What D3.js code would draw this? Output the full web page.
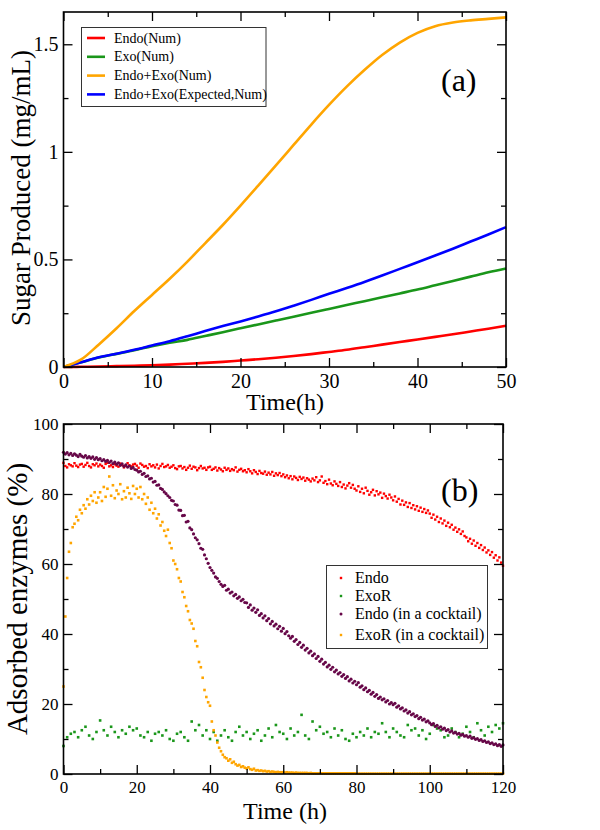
<!DOCTYPE html>
<html>
<head>
<meta charset="utf-8">
<script src="https://cdn.jsdelivr.net/npm/d3@7"></script>
<style>
  html, body { margin: 0; padding: 0; background: #fff; }
  svg { display: block; }
  text { font-family: "Liberation Serif", "Times New Roman", serif; fill: #000; }
</style>
</head>
<body>
<svg id="chart" width="600" height="830"></svg>
<script>
// ---------------- Panel (a) data ----------------
const timeA = [0,2,4,6,8,10,12,14,16,18,20,22,24,26,28,30,32,34,36,38,40,42,44,46,48,50];
const endoNum = [0,0.001,0.002,0.004,0.006,0.008,0.011,0.015,0.019,0.024,0.030,0.036,0.043,0.051,0.060,0.070,0.080,0.092,0.104,0.116,0.128,0.140,0.152,0.165,0.178,0.192];
const exoNum = [0,0.022,0.044,0.061,0.078,0.097,0.113,0.126,0.144,0.162,0.180,0.198,0.216,0.234,0.252,0.270,0.288,0.306,0.324,0.342,0.360,0.380,0.400,0.420,0.440,0.458];
const endoExoNum = [0,0.035,0.105,0.180,0.260,0.335,0.410,0.490,0.575,0.660,0.750,0.843,0.937,1.032,1.127,1.218,1.303,1.380,1.450,1.508,1.553,1.584,1.601,1.611,1.618,1.625];
const endoExoExpected = [0,0.022,0.045,0.062,0.080,0.100,0.120,0.143,0.167,0.190,0.212,0.235,0.259,0.285,0.312,0.340,0.367,0.395,0.425,0.456,0.487,0.518,0.550,0.583,0.616,0.650];
const legendA = ["Endo(Num)", "Exo(Num)", "Endo+Exo(Num)", "Endo+Exo(Expected,Num)"];
const xTicksA = [0,10,20,30,40,50];
const yTicksA = [0,0.5,1,1.5];

// ---------------- Panel (b) data ----------------
// dense series sampled every 0.5 h from 0 to 120 h, ExoR every 1 h
const stepDense = 0.5;
const stepExoR = 1;
const endoB = [
 88.9,88.0,87.6,88.5,88.2,87.9,88.8,88.1,87.7,88.4,88.6,87.8,88.3,88.9,88.0,87.6,88.5,88.2,88.7,87.9,
 88.4,88.0,87.5,88.6,88.9,87.9,88.2,87.7,88.5,88.1,87.8,88.7,88.3,87.6,88.0,88.8,88.2,87.9,88.4,88.6,
 88.1,87.5,88.7,88.3,87.8,88.0,87.4,88.5,87.9,88.2,87.6,88.4,87.3,88.0,88.6,87.7,87.9,88.3,87.5,87.8,
 88.2,87.4,87.1,87.9,88.0,87.3,87.7,86.9,87.5,88.1,87.2,87.8,87.6,86.8,87.4,88.0,87.3,87.5,86.9,87.6,
 87.8,86.9,87.2,87.6,86.7,87.4,87.0,86.5,87.5,86.9,87.3,86.6,87.1,86.8,87.6,86.4,86.9,87.2,86.5,86.8,
 86.2,87.1,86.5,85.9,86.8,86.3,85.7,86.6,86.0,85.8,86.4,85.5,86.1,85.6,86.3,85.2,85.9,85.4,86.0,85.1,
 85.6,84.8,85.3,84.5,85.1,84.2,85.0,84.6,84.0,84.9,84.3,84.7,83.8,84.5,84.1,83.6,84.4,83.9,84.8,83.4,
 83.9,85.0,83.2,83.7,82.8,84.1,83.0,82.5,83.6,82.9,82.3,83.4,82.0,82.7,81.6,82.4,83.1,81.8,82.6,81.5,
 81.0,82.2,80.6,81.5,80.2,81.8,80.9,79.8,80.5,81.2,79.6,80.8,79.9,80.4,78.9,80.1,79.4,78.7,79.8,79.0,
 78.2,79.3,77.8,78.6,77.0,78.1,76.9,77.6,76.3,77.4,76.0,76.8,75.6,76.5,75.2,76.1,74.9,75.7,74.6,75.3,
 74.4,73.2,74.1,72.7,73.5,72.0,73.0,71.6,72.4,70.9,71.8,70.5,71.2,69.8,70.4,69.2,69.9,68.6,69.3,68.0,
 67.6,66.5,67.2,65.8,66.7,65.2,66.0,64.6,65.4,64.0,64.7,63.3,63.9,62.6,63.4,61.8,62.5,61.0,61.9,60.4,
 59.5
];
const exoRB = [
 8.0,10.5,11.5,12.0,10.5,12.5,13.5,11.0,10.0,12.0,15.3,12.5,11.0,13.5,12.0,10.5,12.5,11.5,13.5,12.5,
 13.0,11.0,10.5,12.0,9.5,11.5,12.0,11.0,12.5,10.0,9.5,11.5,12.0,10.5,9.5,15.0,12.5,14.0,11.0,12.5,
 10.0,12.0,9.5,11.0,12.5,10.5,9.5,12.0,13.5,11.0,12.0,10.0,11.5,12.5,9.5,11.0,13.0,10.5,14.0,12.0,
 11.5,10.0,13.0,11.0,12.0,16.9,11.0,10.0,15.0,12.5,13.5,11.5,12.0,10.5,13.0,11.0,12.5,10.0,9.5,11.5,
 10.5,12.0,11.0,13.0,10.5,12.0,11.5,14.5,12.0,10.5,13.0,12.0,11.0,10.5,14.0,12.5,13.0,11.0,12.5,10.0,
 11.5,14.0,13.0,12.5,10.5,11.0,13.0,12.0,10.5,11.5,13.5,12.0,10.5,14.5,12.5,11.0,13.5,12.0,14.0,13.0,
 14.5
];
const endoCocktailB = [
 91.9,91.4,91.8,91.2,91.6,91.0,91.5,91.1,90.7,91.3,90.8,90.5,91.0,90.3,90.7,90.2,90.6,89.9,90.4,89.8,
 90.1,89.5,89.8,89.3,89.6,89.0,89.4,88.7,89.1,88.5,88.9,88.2,88.6,87.9,88.3,87.7,88.0,87.3,87.6,87.0,
 86.8,86.3,86.5,85.6,85.9,85.0,85.2,84.3,84.5,83.4,83.6,82.5,82.6,81.6,81.3,80.6,80.1,79.5,79.0,78.2,
 78.0,77.0,76.8,75.4,75.3,73.8,73.9,72.0,72.2,70.3,69.8,68.6,67.5,66.9,65.8,64.5,64.2,62.6,61.5,60.2,
 59.0,58.2,57.4,56.3,55.9,55.0,54.2,53.6,53.9,52.5,52.8,51.7,52.0,50.9,51.3,50.2,50.6,49.5,49.9,49.0,
 48.9,47.6,48.3,46.8,47.4,46.2,46.9,45.3,45.8,44.6,45.2,43.8,44.4,42.9,43.6,42.3,42.8,41.5,42.2,40.8,
 41.6,40.1,40.7,39.5,38.8,39.3,37.9,38.4,37.0,37.6,36.2,36.8,35.4,35.9,34.6,35.1,33.8,34.3,33.0,33.6,
 32.2,32.8,31.4,31.9,30.6,31.1,29.9,30.5,29.2,29.7,28.6,29.0,27.9,28.4,27.3,27.8,26.6,27.1,26.0,26.5,
 25.5,26.1,24.8,25.2,24.1,24.6,23.5,23.9,22.8,23.3,22.2,22.7,21.6,22.0,21.2,21.5,20.6,21.0,20.0,20.4,
 19.8,20.2,19.1,19.5,18.6,18.9,18.0,18.3,17.4,17.8,16.9,17.2,16.4,16.7,15.8,16.2,15.4,15.7,14.9,15.2,
 14.6,14.1,14.4,13.6,13.9,13.2,13.5,12.8,13.1,12.4,12.7,12.0,12.3,11.7,11.9,11.4,11.6,11.1,11.3,10.8,
 11.0,10.5,10.8,10.2,10.4,9.9,10.1,9.6,9.8,9.3,9.5,9.0,9.2,8.7,8.9,8.4,8.6,8.1,8.4,7.9,
 8.3
];
const exoRCocktailB = [
 25.0,45.0,56.0,63.5,66.0,70.5,71.5,73.5,72.5,75.5,74.5,76.8,75.8,78.5,77.0,79.5,78.0,80.5,77.5,79.0,
 80.5,78.0,82.0,79.2,81.5,85.0,79.5,82.5,78.8,81.0,80.0,82.8,78.5,80.8,79.0,81.8,80.2,78.6,82.3,80.0,
 81.5,79.0,82.0,78.5,80.0,77.2,79.0,75.5,77.5,74.5,75.8,73.0,74.2,71.0,72.0,69.5,68.0,69.8,66.0,64.5,
 61.0,60.0,58.5,56.0,55.0,52.0,50.5,48.0,46.5,44.0,43.0,41.5,38.0,36.5,32.0,30.5,27.5,24.0,22.0,20.5,
 19.5,15.0,12.5,11.0,9.0,7.5,6.5,5.5,4.8,4.5,3.8,4.2,3.2,3.5,2.8,2.4,2.6,2.0,2.2,1.8,
 1.6,1.9,1.4,1.2,1.5,1.0,1.1,0.9,1.0,0.8,0.9,0.7,0.8,0.6,0.7,0.6,0.5,0.6,0.5,0.5,
 0.5,0.4,0.5,0.4,0.4,0.4,0.3,0.4,0.3,0.3,0.3,0.3,0.3,0.3,0.2,0.3,0.2,0.2,0.2,0.2,
 0.2,0.2,0.2,0.2,0.2,0.2,0.2,0.2,0.2,0.2,0.2,0.2,0.2,0.2,0.2,0.2,0.2,0.2,0.2,0.2,
 0.1,0.1,0.1,0.1,0.1,0.1,0.1,0.1,0.1,0.1,0.1,0.1,0.1,0.1,0.1,0.1,0.1,0.1,0.1,0.1,
 0.1,0.1,0.1,0.1,0.1,0.1,0.1,0.1,0.1,0.1,0.1,0.1,0.1,0.1,0.1,0.1,0.1,0.1,0.1,0.1,
 0.1,0.1,0.1,0.1,0.1,0.1,0.1,0.1,0.1,0.1,0.1,0.1,0.1,0.1,0.1,0.1,0.1,0.1,0.1,0.1,
 0.1,0.1,0.1,0.1,0.1,0.1,0.1,0.1,0.1,0.1,0.1,0.1,0.1,0.1,0.1,0.1,0.1,0.1,0.1,0.1,
 0.1
];
const legendB = ["Endo", "ExoR", "Endo (in a cocktail)", "ExoR (in a cocktail)"];
const xTicksB = [0,20,40,60,80,100,120];
const yTicksB = [0,20,40,60,80,100];

// ---------------- styling ----------------
const colA = ["#ff0000", "#1a961a", "#ffa500", "#0000ff"];
const colB = ["#ff0000", "#1a961a", "#670748", "#ffa500"];

const svg = d3.select("#chart");

function frameAxes(g, x, y, xMajor, xMinor, yMajor, yMinor, fs, xfmt, yfmt) {
  const [x0, x1] = x.range();
  const [y0, y1] = y.range(); // y0 bottom, y1 top
  const major = 9, minor = 5;
  g.append("g").attr("transform", `translate(0,${y0})`)
    .call(d3.axisBottom(x).tickValues(xMajor).tickSize(-major).tickPadding(7).tickFormat(xfmt));
  g.append("g").attr("transform", `translate(0,${y0})`)
    .call(d3.axisBottom(x).tickValues(xMinor).tickSize(-minor).tickFormat(""));
  g.append("g").attr("transform", `translate(0,${y1})`)
    .call(d3.axisTop(x).tickValues(xMajor).tickSize(-major).tickFormat(""));
  g.append("g").attr("transform", `translate(0,${y1})`)
    .call(d3.axisTop(x).tickValues(xMinor).tickSize(-minor).tickFormat(""));
  g.append("g").attr("transform", `translate(${x0},0)`)
    .call(d3.axisLeft(y).tickValues(yMajor).tickSize(-major).tickPadding(5).tickFormat(yfmt));
  g.append("g").attr("transform", `translate(${x0},0)`)
    .call(d3.axisLeft(y).tickValues(yMinor).tickSize(-minor).tickFormat(""));
  g.append("g").attr("transform", `translate(${x1},0)`)
    .call(d3.axisRight(y).tickValues(yMajor).tickSize(-major).tickFormat(""));
  g.append("g").attr("transform", `translate(${x1},0)`)
    .call(d3.axisRight(y).tickValues(yMinor).tickSize(-minor).tickFormat(""));
  g.selectAll(".domain").remove();
  g.selectAll(".tick line").attr("stroke", "#000").attr("stroke-width", 1.3);
  g.selectAll(".tick text").style("font-size", fs + "px")
    .style("font-family", '"Liberation Serif", "Times New Roman", serif').attr("fill", "#000");
  g.append("rect").attr("x", x0).attr("y", y1).attr("width", x1 - x0).attr("height", y0 - y1)
    .attr("fill", "none").attr("stroke", "#000").attr("stroke-width", 1.6);
}

// ================= Panel (a) =================
const gA = svg.append("g");
const xA = d3.scaleLinear().domain([0, 50]).range([63.5, 506]);
const yA = d3.scaleLinear().domain([0, 1.65]).range([367, 12]);

const seriesA = [endoNum, exoNum, endoExoNum, endoExoExpected];
const lineA = d3.line().x(d => xA(d[0])).y(d => yA(d[1])).curve(d3.curveMonotoneX);
const drawOrderA = [0, 1, 3, 2];
drawOrderA.forEach(i => {
  gA.append("path")
    .datum(timeA.map((t, k) => [t, seriesA[i][k]]))
    .attr("d", lineA)
    .attr("fill", "none")
    .attr("stroke", colA[i])
    .attr("stroke-width", 2.6);
});

frameAxes(gA, xA, yA, xTicksA, d3.range(5, 50, 10), yTicksA, [0.25, 0.75, 1.25],
  20, d3.format("d"), d => d3.format("")(d));

const lgA = gA.append("g");
lgA.append("rect").attr("x", 81.5).attr("y", 27.5).attr("width", 184.5).attr("height", 79)
  .attr("fill", "#fff").attr("stroke", "#333").attr("stroke-width", 1);
legendA.forEach((name, i) => {
  const yy = 38 + i * 18.8;
  lgA.append("line").attr("x1", 87).attr("x2", 105).attr("y1", yy).attr("y2", yy)
    .attr("stroke", colA[i]).attr("stroke-width", 2.6);
  lgA.append("text").attr("x", 114).attr("y", yy).attr("dy", "0.33em")
    .style("font-size", "14px").text(name);
});

gA.append("text").attr("x", 441).attr("y", 91).style("font-size", "32px").text("(a)");
gA.append("text").attr("x", 285).attr("y", 410).attr("text-anchor", "middle")
  .style("font-size", "24px").text("Time(h)");
gA.append("text").attr("transform", "translate(30,188) rotate(-90)").attr("text-anchor", "middle")
  .style("font-size", "27px").text("Sugar Produced (mg/mL)");

// ================= Panel (b) =================
const gB = svg.append("g");
const xB = d3.scaleLinear().domain([0, 120]).range([63.5, 503]);
const yB = d3.scaleLinear().domain([0, 100]).range([774, 424]);

const seriesB = [
  { vals: endoB, step: stepDense, col: colB[0], s: 2.4, shape: "rect" },
  { vals: exoRB, step: stepExoR, col: colB[1], s: 2.6, shape: "rect" },
  { vals: endoCocktailB, step: stepDense, col: colB[2], s: 1.6, shape: "circle" },
  { vals: exoRCocktailB, step: stepDense, col: colB[3], s: 2.6, shape: "rect" }
];
const plotB = gB.append("g");
seriesB.forEach(S => {
  const data = S.vals.map((v, k) => [k * S.step, v]);
  if (S.shape === "rect") {
    plotB.append("g").selectAll("rect").data(data).join("rect")
      .attr("x", d => xB(d[0]) - S.s / 2).attr("y", d => yB(d[1]) - S.s / 2)
      .attr("width", S.s).attr("height", S.s).attr("fill", S.col);
  } else {
    plotB.append("g").selectAll("circle").data(data).join("circle")
      .attr("cx", d => xB(d[0])).attr("cy", d => yB(d[1])).attr("r", S.s).attr("fill", S.col);
  }
});

frameAxes(gB, xB, yB, xTicksB, d3.range(10, 120, 20), yTicksB, d3.range(10, 100, 20),
  17, d3.format("d"), d3.format("d"));

const lgB = gB.append("g");
lgB.append("rect").attr("x", 326.5).attr("y", 565.5).attr("width", 161).attr("height", 83)
  .attr("fill", "#fff").attr("stroke", "#333").attr("stroke-width", 1);
const rowYB = [578, 596, 614, 635];
legendB.forEach((name, i) => {
  const yy = rowYB[i];
  if (i === 2) {
    lgB.append("circle").attr("cx", 341).attr("cy", yy).attr("r", 1.5).attr("fill", colB[i]);
  } else {
    lgB.append("rect").attr("x", 339.8).attr("y", yy - 1.2).attr("width", 2.4).attr("height", 2.4)
      .attr("fill", colB[i]);
  }
  lgB.append("text").attr("x", 355).attr("y", yy).attr("dy", "0.33em")
    .style("font-size", "16px").text(name);
});

gB.append("text").attr("x", 441).attr("y", 501).style("font-size", "32px").text("(b)");
gB.append("text").attr("x", 285).attr("y", 819).attr("text-anchor", "middle")
  .style("font-size", "24px").text("Time (h)");
gB.append("text").attr("transform", "translate(27,599) rotate(-90)").attr("text-anchor", "middle")
  .style("font-size", "29px").text("Adsorbed enzymes (%)");
</script>
</body>
</html>
